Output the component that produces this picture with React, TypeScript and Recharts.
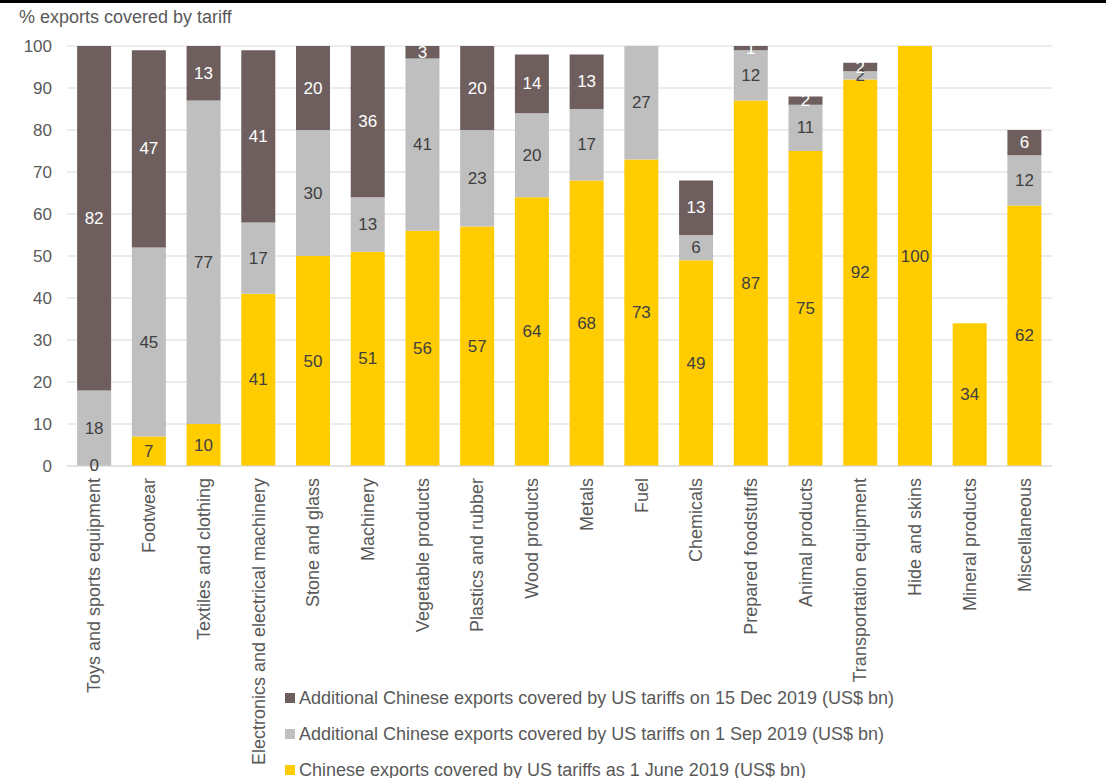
import { Bar, BarChart, CartesianGrid, LabelList, Legend, XAxis, YAxis } from "recharts";

const categories = [
  "Toys and sports equipment",
  "Footwear",
  "Textiles and clothing",
  "Electronics and electrical machinery",
  "Stone and glass",
  "Machinery",
  "Vegetable products",
  "Plastics and rubber",
  "Wood products",
  "Metals",
  "Fuel",
  "Chemicals",
  "Prepared foodstuffs",
  "Animal products",
  "Transportation equipment",
  "Hide and skins",
  "Mineral products",
  "Miscellaneous",
];

// Chinese exports covered as of 1 June 2019
const june = [0, 7, 10, 41, 50, 51, 56, 57, 64, 68, 73, 49, 87, 75, 92, 100, 34, 62];
// additional on 1 Sep 2019
const sep = [18, 45, 77, 17, 30, 13, 41, 23, 20, 17, 27, 6, 12, 11, 2, null, null, 12];
// additional on 15 Dec 2019
const dec = [82, 47, 13, 41, 20, 36, 3, 20, 14, 13, null, 13, 1, 2, 2, null, null, 6];

const yTicks = [0, 10, 20, 30, 40, 50, 60, 70, 80, 90, 100];

const colJune = "#FFCC00";
const colSep = "#BFBFBF";
const colDec = "#6E5F5E";
const axisText = "#595959";
const font = "'Liberation Sans', Arial, sans-serif";

const data = categories.map((name, i) => ({
  name,
  june: june[i],
  sep: sep[i],
  dec: dec[i],
}));

const legendItems = [
  { label: "Additional Chinese exports covered by US tariffs on 15 Dec 2019 (US$ bn)", color: colDec },
  { label: "Additional Chinese exports covered by US tariffs on 1 Sep 2019 (US$ bn)", color: colSep },
  { label: "Chinese exports covered by US tariffs as 1 June 2019 (US$ bn)", color: colJune },
];

function makeLabel(fill: string) {
  return (props: any) => {
    const { x, y, width, height, value } = props;
    if (value === null || value === undefined) return null;
    return (
      <text
        x={Number(x) + Number(width) / 2}
        y={Number(y) + Number(height) / 2}
        textAnchor="middle"
        dominantBaseline="central"
        fontSize={17}
        fontFamily={font}
        fill={fill}
      >
        {value}
      </text>
    );
  };
}

function CategoryTick(props: any) {
  const { x, payload } = props;
  const ty = 478;
  return (
    <text
      x={x}
      y={ty}
      dy={6}
      transform={`rotate(-90, ${x}, ${ty})`}
      textAnchor="end"
      fontSize={18}
      fontFamily={font}
      fill={axisText}
    >
      {payload.value}
    </text>
  );
}

function LegendBox() {
  return (
    <div style={{ fontFamily: font, fontSize: 18, color: axisText }}>
      {legendItems.map((it) => (
        <div key={it.label} style={{ display: "flex", alignItems: "center", height: 36, whiteSpace: "nowrap" }}>
          <span style={{ width: 10, height: 10, background: it.color, marginRight: 4, display: "inline-block" }} />
          {it.label}
        </div>
      ))}
    </div>
  );
}

export default function App() {
  return (
    <div style={{ position: "absolute", left: 0, top: 0, width: 1106, height: 778, background: "#fff", overflow: "hidden" }}>
      <div style={{ position: "absolute", left: 0, top: 0, width: 1106, height: 3, background: "#000" }} />
      <div
        style={{
          position: "absolute",
          left: 19,
          top: 7,
          fontFamily: font,
          fontSize: 18,
          color: axisText,
        }}
      >
        % exports covered by tariff
      </div>
      <BarChart
        width={1106}
        height={778}
        data={data}
        margin={{ top: 46, right: 54, bottom: 0, left: 0 }}
        barCategoryGap="18.5%"
      >
        <CartesianGrid vertical={false} stroke="#D9D9D9" />
        <XAxis
          dataKey="name"
          interval={0}
          height={312}
          tick={<CategoryTick />}
          tickLine={false}
          axisLine={{ stroke: "#D9D9D9" }}
        />
        <YAxis
          width={67}
          domain={[0, 100]}
          ticks={yTicks}
          tickLine={false}
          axisLine={false}
          tickMargin={9}
          tick={{ fontSize: 17, fill: axisText, fontFamily: font }}
        />
        <Legend
          layout="horizontal"
          verticalAlign="middle"
          align="center"
          wrapperStyle={{ position: "absolute", left: 285, top: 680, width: 760 }}
          content={() => <LegendBox />}
        />
        <Bar dataKey="june" stackId="a" fill={colJune} minPointSize={1} isAnimationActive={false}>
          <LabelList dataKey="june" content={makeLabel("#404040")} />
        </Bar>
        <Bar dataKey="sep" stackId="a" fill={colSep} isAnimationActive={false}>
          <LabelList dataKey="sep" content={makeLabel("#404040")} />
        </Bar>
        <Bar dataKey="dec" stackId="a" fill={colDec} isAnimationActive={false}>
          <LabelList dataKey="dec" content={makeLabel("#FFFFFF")} />
        </Bar>
      </BarChart>
    </div>
  );
}
